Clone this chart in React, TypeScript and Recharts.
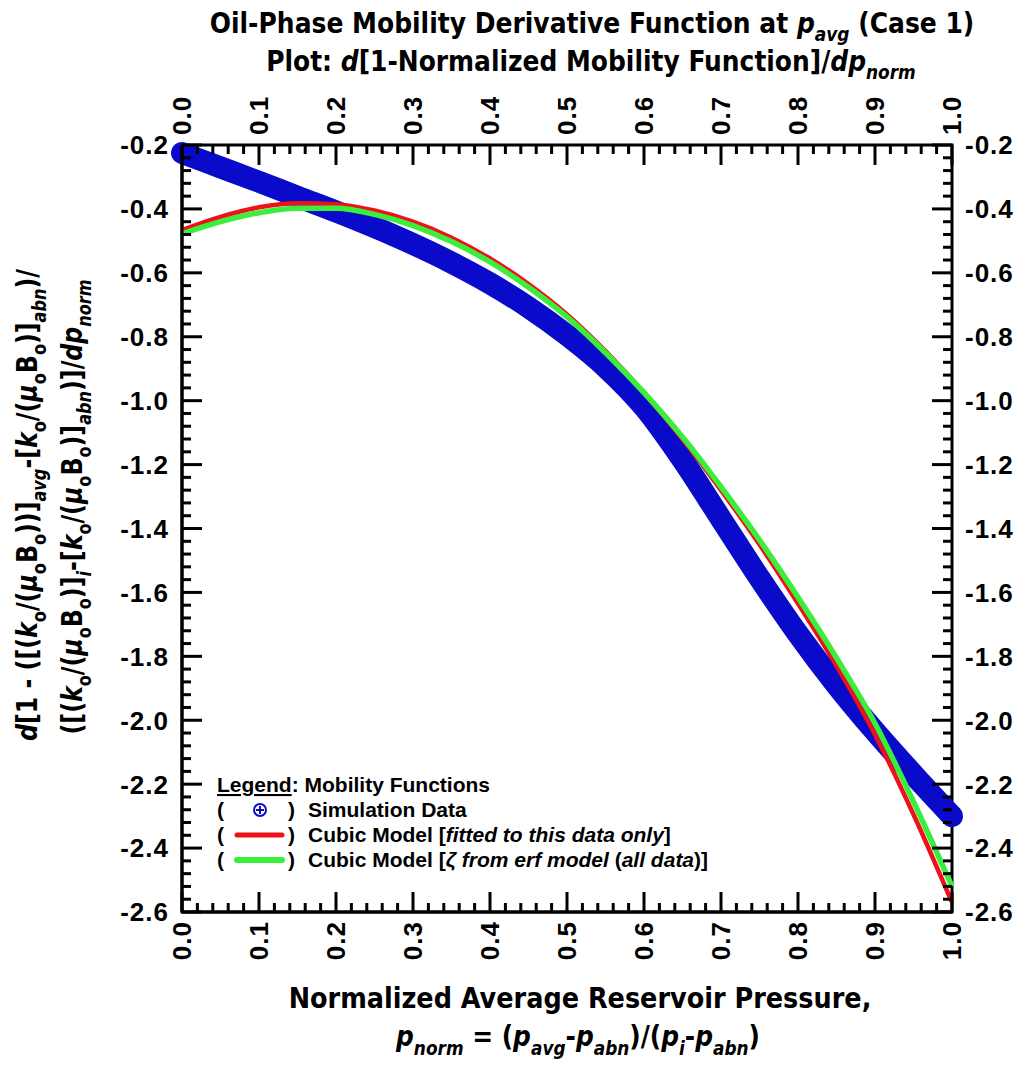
import React, { useLayoutEffect, useRef, useState } from 'react';
import { LineChart, Line, XAxis, YAxis, ReferenceArea } from 'recharts';

// normalized pressure (x) and the three curves
const pNorm = [0, 0.05, 0.1, 0.15, 0.2, 0.25, 0.3, 0.35, 0.4, 0.45, 0.5, 0.55, 0.6, 0.65, 0.7, 0.75, 0.8, 0.85, 0.9, 0.95, 1.0];
const simulationData = [-0.225, -0.27, -0.315, -0.362, -0.408, -0.457, -0.51, -0.568, -0.633, -0.708, -0.795, -0.895, -1.02, -1.185, -1.37, -1.555, -1.73, -1.89, -2.035, -2.17, -2.3];
const cubicFitted = [-0.466, -0.425, -0.395, -0.382, -0.385, -0.405, -0.44, -0.49, -0.555, -0.635, -0.73, -0.845, -0.975, -1.12, -1.28, -1.45, -1.635, -1.83, -2.045, -2.295, -2.57];
const cubicErf = [-0.478, -0.44, -0.412, -0.398, -0.398, -0.417, -0.452, -0.502, -0.566, -0.645, -0.738, -0.85, -0.975, -1.114, -1.27, -1.436, -1.615, -1.805, -2.01, -2.255, -2.52];

// tick positions: minor every 0.02 / 0.04, labelled every 0.1 / 0.2
const xTicks = Array.from({ length: 51 }, (_, i) => +(i * 0.02).toFixed(2));
const yTicks = Array.from({ length: 61 }, (_, i) => +(-2.6 + i * 0.04).toFixed(2));

const chartData = pNorm.map((p, i) => ({ p, sim: simulationData[i], fit: cubicFitted[i], erf: cubicErf[i] }));

const W = 1007;
const H = 1054;
const PLOT_W = 770;
const PLOT_H = 767;
const BOLD = "'Liberation Sans', Arial, sans-serif";
const NARROW = "'Liberation Sans Narrow', 'DejaVu Sans Condensed', 'Liberation Sans', sans-serif";
const BLUE = '#0A0ACB';
const RED = '#F0101A';
const GREEN = '#3CEE3C';

const labelFont = { fontFamily: BOLD, fontWeight: 'bold' as const, fontSize: 26, letterSpacing: 1, fill: '#000' };
const isMajor = (v: number, step: number) => Math.abs(v / step - Math.round(v / step)) < 1e-6;

// bottom axis tick; also mirrors the tick + label onto the top edge of the box
function XTick(props: any) {
  const { x, y, payload } = props;
  const v = Number(payload.value);
  const major = isMajor(v, 0.1);
  const len = major ? 20 : 9;
  const top = y - PLOT_H;
  return (
    <g>
      <line x1={x} y1={y} x2={x} y2={y - len} stroke="#000" strokeWidth={3} />
      <line x1={x} y1={top} x2={x} y2={top + len} stroke="#000" strokeWidth={3} />
      {major && (
        <>
          <text transform={`translate(${x + 9},${y + 9}) rotate(-90)`} textAnchor="end" {...labelFont}>{v.toFixed(1)}</text>
          <text transform={`translate(${x + 9},${top - 10}) rotate(-90)`} textAnchor="start" {...labelFont}>{v.toFixed(1)}</text>
        </>
      )}
    </g>
  );
}

// left axis tick; also mirrors onto the right edge
function YTick(props: any) {
  const { x, y, payload } = props;
  const v = Number(payload.value);
  const major = isMajor(v, 0.2);
  const len = major ? 20 : 9;
  const right = x + PLOT_W;
  return (
    <g>
      <line x1={x} y1={y} x2={x + len} y2={y} stroke="#000" strokeWidth={3} />
      <line x1={right} y1={y} x2={right - len} y2={y} stroke="#000" strokeWidth={3} />
      {major && (
        <>
          <text x={x - 13} y={y} dy="0.36em" textAnchor="end" {...labelFont}>{v.toFixed(1)}</text>
          <text x={right + 13} y={y} dy="0.36em" textAnchor="start" {...labelFont}>{v.toFixed(1)}</text>
        </>
      )}
    </g>
  );
}

type Seg = { t: string; i?: boolean; sub?: boolean };

function rich(segs: Seg[], size: number) {
  let cur = 0;
  const shift = size * 0.3;
  return segs.map((s, k) => {
    const target = s.sub ? shift : 0;
    const dy = target - cur;
    cur = target;
    return (
      <tspan key={k} dy={dy !== 0 ? dy : undefined} fontStyle={s.i ? 'italic' : undefined} fontSize={s.sub ? size * 0.68 : undefined}>
        {s.t}
      </tspan>
    );
  });
}

// narrow bold text, squeezed horizontally to the width it has in the original
function FitText({ x, y, width, rotate, segs, size }: { x: number; y: number; width: number; rotate?: boolean; segs: Seg[]; size: number }) {
  const ref = useRef<SVGTextElement>(null);
  const [k, setK] = useState(1);
  useLayoutEffect(() => {
    if (ref.current) {
      const w = ref.current.getComputedTextLength();
      if (w > 0) setK(width / w);
    }
  }, [width]);
  const tr = `translate(${x},${y})${rotate ? ' rotate(-90)' : ''} scale(${k},1)`;
  return (
    <text ref={ref} transform={tr} textAnchor="middle" fontFamily={NARROW} fontWeight="bold" fontSize={size} fill="#000" style={{ whiteSpace: 'pre' }}>
      {rich(segs, size)}
    </text>
  );
}

const title1: Seg[] = [{ t: 'Oil-Phase Mobility Derivative Function at ' }, { t: 'p', i: true }, { t: 'avg', i: true, sub: true }, { t: ' (Case 1)' }];
const title2: Seg[] = [{ t: 'Plot: ' }, { t: 'd', i: true }, { t: '[1-Normalized Mobility Function]/' }, { t: 'dp', i: true }, { t: 'norm', i: true, sub: true }];
const xLabel1: Seg[] = [{ t: 'Normalized Average Reservoir Pressure,' }];
const xLabel2: Seg[] = [
  { t: 'p', i: true }, { t: 'norm', i: true, sub: true }, { t: ' = (' }, { t: 'p', i: true }, { t: 'avg', i: true, sub: true },
  { t: '-' }, { t: 'p', i: true }, { t: 'abn', i: true, sub: true }, { t: ')/(' }, { t: 'p', i: true }, { t: 'i', i: true, sub: true },
  { t: '-' }, { t: 'p', i: true }, { t: 'abn', i: true, sub: true }, { t: ')' },
];
const yLabel1: Seg[] = [
  { t: 'd', i: true }, { t: '[1 - ([(' }, { t: 'k', i: true }, { t: 'o', sub: true }, { t: '/(' }, { t: 'μ', i: true }, { t: 'o', sub: true },
  { t: 'B' }, { t: 'o', sub: true }, { t: '))]' }, { t: 'avg', i: true, sub: true }, { t: '-[' }, { t: 'k', i: true }, { t: 'o', sub: true },
  { t: '/(' }, { t: 'μ', i: true }, { t: 'o', sub: true }, { t: 'B' }, { t: 'o', sub: true }, { t: ')]' }, { t: 'abn', i: true, sub: true }, { t: ')/' },
];
const yLabel2: Seg[] = [
  { t: '([(' }, { t: 'k', i: true }, { t: 'o', sub: true }, { t: '/(' }, { t: 'μ', i: true }, { t: 'o', sub: true }, { t: 'B' }, { t: 'o', sub: true },
  { t: ')]' }, { t: 'i', i: true, sub: true }, { t: '-[' }, { t: 'k', i: true }, { t: 'o', sub: true }, { t: '/(' }, { t: 'μ', i: true },
  { t: 'o', sub: true }, { t: 'B' }, { t: 'o', sub: true }, { t: ')]' }, { t: 'abn', i: true, sub: true }, { t: ')]/' }, { t: 'dp', i: true },
  { t: 'norm', i: true, sub: true },
];

const legendX = 209;
const legendBase = [784, 809, 834, 859];

export default function App() {
  const legProps = { fontFamily: BOLD, fontWeight: 'bold' as const, fontSize: 21, fill: '#000', style: { whiteSpace: 'pre' as const } };
  return (
    <div style={{ position: 'relative', width: W, height: H }}>
      <LineChart width={W} height={H} data={chartData} margin={{ top: 137, right: 63, bottom: 149, left: 173 }}>
        <XAxis dataKey="p" type="number" domain={[0, 1]} ticks={xTicks} interval={0} orientation="bottom" height={1}
          tickSize={0} tickMargin={0} tickLine={false} axisLine={{ stroke: '#000', strokeWidth: 3 }} tick={(p: any) => <XTick {...p} />} />
        <YAxis type="number" domain={[-2.6, -0.2]} ticks={yTicks} interval={0} orientation="left" width={1}
          tickSize={0} tickMargin={0} tickLine={false} axisLine={{ stroke: '#000', strokeWidth: 3 }} tick={(p: any) => <YTick {...p} />} />
        <ReferenceArea x1={0} x2={1} y1={-2.6} y2={-0.2} fill="none" fillOpacity={0} stroke="#000" strokeWidth={3} />

        <Line type="monotone" dataKey="sim" stroke={BLUE} strokeWidth={22}
          strokeLinecap="round" strokeLinejoin="round" dot={false} isAnimationActive={false} />
        <Line type="monotone" dataKey="fit" stroke={RED} strokeWidth={4.5} dot={false} isAnimationActive={false} />
        <Line type="monotone" dataKey="erf" stroke={GREEN} strokeWidth={5.5} dot={false} isAnimationActive={false} />
      </LineChart>

      <svg width={W} height={H} style={{ position: 'absolute', left: 0, top: 0, pointerEvents: 'none', overflow: 'visible' }}>
        <FitText x={584} y={25} width={765} segs={title1} size={28} />
        <FitText x={583} y={63} width={650} segs={title2} size={28} />
        <FitText x={572} y={1000} width={583} segs={xLabel1} size={29} />
        <FitText x={570} y={1038} width={364} segs={xLabel2} size={29} />
        <FitText x={29} y={497} width={472} rotate segs={yLabel1} size={29} />
        <FitText x={74} y={499} width={455} rotate segs={yLabel2} size={29} />

        <text x={legendX} y={legendBase[0]} {...legProps}>
          <tspan textDecoration="underline">Legend</tspan>
          <tspan>: Mobility Functions</tspan>
        </text>
        {[1, 2, 3].map((r) => (
          <g key={r}>
            <text x={legendX} y={legendBase[r]} {...legProps}>(</text>
            <text x={280} y={legendBase[r]} {...legProps}>)</text>
          </g>
        ))}
        <circle cx={252} cy={legendBase[1] - 7} r={6} fill="none" stroke={BLUE} strokeWidth={2} />
        <line x1={248} y1={legendBase[1] - 7} x2={256} y2={legendBase[1] - 7} stroke={BLUE} strokeWidth={2} />
        <line x1={252} y1={legendBase[1] - 11} x2={252} y2={legendBase[1] - 3} stroke={BLUE} strokeWidth={2} />
        <line x1={229} y1={legendBase[2] - 7} x2={274} y2={legendBase[2] - 7} stroke={RED} strokeWidth={5} strokeLinecap="round" />
        <line x1={229} y1={legendBase[3] - 7} x2={274} y2={legendBase[3] - 7} stroke={GREEN} strokeWidth={6} strokeLinecap="round" />
        <text x={300} y={legendBase[1]} {...legProps}>Simulation Data</text>
        <text x={300} y={legendBase[2]} {...legProps}>
          <tspan>Cubic Model [</tspan>
          <tspan fontStyle="italic">fitted to this data only</tspan>
          <tspan>]</tspan>
        </text>
        <text x={300} y={legendBase[3]} {...legProps}>
          <tspan>Cubic Model [</tspan>
          <tspan fontStyle="italic">ζ from erf model </tspan>
          <tspan>(</tspan>
          <tspan fontStyle="italic">all data</tspan>
          <tspan>)]</tspan>
        </text>
      </svg>
    </div>
  );
}
